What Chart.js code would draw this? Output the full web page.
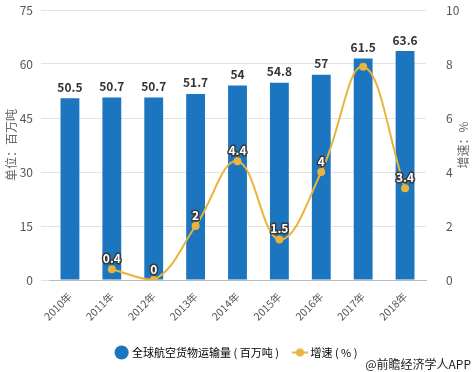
<!DOCTYPE html>
<html>
<head>
<meta charset="utf-8">
<script src="https://cdn.jsdelivr.net/npm/chart.js@4/dist/chart.umd.min.js"></script>
<style>
  html, body { margin: 0; padding: 0; background: #fff; }
  #wrap { width: 474px; height: 372px; }
</style>
</head>
<body>
<div id="wrap"><canvas id="chart" width="474" height="372"></canvas></div>
<script>
const years = ['2010年', '2011年', '2012年', '2013年', '2014年', '2015年', '2016年', '2017年', '2018年'];
const cargoVolume = [50.5, 50.7, 50.7, 51.7, 54, 54.8, 57, 61.5, 63.6];
const growthRate = [null, 0.4, 0, 2, 4.4, 1.5, 4, 7.9, 3.4];
const leftTicks = [0, 15, 30, 45, 60, 75];
const rightTicks = [0, 2, 4, 6, 8, 10];

const barColor = '#1B76BF';
const lineColor = '#E8B43C';
const fontFamily = '"Microsoft YaHei", "Noto Sans CJK SC", sans-serif';

// little "line with dot" icon for the legend
function lineIcon() {
    const c = document.createElement('canvas');
    c.width = 16; c.height = 10;
    const g = c.getContext('2d');
    g.strokeStyle = lineColor;
    g.lineWidth = 2;
    g.beginPath(); g.moveTo(0, 5); g.lineTo(16, 5); g.stroke();
    g.fillStyle = lineColor;
    g.beginPath(); g.arc(8, 5, 4, 0, Math.PI * 2); g.fill();
    return c;
}

// value labels, axis titles and source line
const extras = {
    id: 'extras',
    afterDatasetsDraw(chart) {
        const ctx = chart.ctx;
        const barMeta = chart.getDatasetMeta(0);
        const lineMeta = chart.getDatasetMeta(1);
        const barBoxes = [];

        ctx.save();
        ctx.font = 'bold 12px ' + fontFamily;
        ctx.textAlign = 'center';
        ctx.textBaseline = 'bottom';
        ctx.fillStyle = '#333';
        barMeta.data.forEach((bar, i) => {
            const txt = String(cargoVolume[i]);
            const y = bar.y - 5;
            ctx.fillText(txt, bar.x, y);
            const w = ctx.measureText(txt).width;
            barBoxes.push({ l: bar.x - w / 2, r: bar.x + w / 2, t: y - 14, b: y });
        });

        ctx.lineJoin = 'round';
        lineMeta.data.forEach((pt, i) => {
            const v = growthRate[i];
            if (v === null || pt.skip) return;
            const txt = String(v);
            const y = pt.y - 5;
            const w = ctx.measureText(txt).width;
            const box = { l: pt.x - w / 2, r: pt.x + w / 2, t: y - 14, b: y };
            const hit = barBoxes.some(b => box.l < b.r && box.r > b.l && box.t < b.b && box.b > b.t);
            if (hit) return;
            ctx.strokeStyle = '#3a3a3a';
            ctx.lineWidth = 3;
            ctx.strokeText(txt, pt.x, y);
            ctx.fillStyle = '#fff';
            ctx.fillText(txt, pt.x, y);
        });

        // axis titles, both read bottom to top
        const area = chart.chartArea;
        const midY = (area.top + area.bottom) / 2;
        ctx.font = '12px ' + fontFamily;
        ctx.fillStyle = '#666';
        ctx.textBaseline = 'middle';
        ctx.textAlign = 'center';
        [[11, '单位：百万吨'], [463, '增速：%']].forEach(([x, txt]) => {
            ctx.save();
            ctx.translate(x, midY);
            ctx.rotate(-Math.PI / 2);
            ctx.fillText(txt, 0, 0);
            ctx.restore();
        });

        ctx.font = '12px ' + fontFamily;
        ctx.fillStyle = '#222';
        ctx.textAlign = 'right';
        ctx.textBaseline = 'alphabetic';
        ctx.fillText('@前瞻经济学人APP', 471, 369);
        ctx.restore();
    }
};

new Chart(document.getElementById('chart'), {
    data: {
        labels: years,
        datasets: [
            {
                type: 'bar',
                label: '全球航空货物运输量 ( 百万吨 )',
                data: cargoVolume,
                backgroundColor: barColor,
                yAxisID: 'y',
                barPercentage: 0.45,
                categoryPercentage: 1,
                order: 2
            },
            {
                type: 'line',
                label: '增速 ( % )',
                data: growthRate,
                borderColor: lineColor,
                backgroundColor: lineColor,
                borderWidth: 2,
                pointRadius: 4,
                pointBorderWidth: 0,
                tension: 0.4,
                yAxisID: 'y1',
                order: 1
            }
        ]
    },
    options: {
        responsive: false,
        animation: false,
        layout: { padding: { top: 10, bottom: 4 } },
        plugins: {
            tooltip: { enabled: false },
            legend: {
                position: 'bottom',
                labels: {
                    usePointStyle: true,
                    boxWidth: 10,
                    boxHeight: 10,
                    padding: 16,
                    color: '#333',
                    font: { size: 11, family: fontFamily },
                    generateLabels(chart) {
                        return chart.data.datasets.map((ds, i) => ({
                            text: ds.label,
                            fillStyle: ds.backgroundColor,
                            strokeStyle: ds.backgroundColor,
                            lineWidth: 0,
                            pointStyle: i === 0 ? 'circle' : lineIcon(),
                            datasetIndex: i,
                            hidden: false
                        }));
                    }
                }
            }
        },
        scales: {
            x: {
                grid: { display: false },
                border: { color: '#bbb' },
                ticks: {
                    color: '#555',
                    font: { size: 10.5, family: fontFamily },
                    maxRotation: 45,
                    minRotation: 45,
                    padding: 2
                },
                afterFit(s) { s.height = 51; }
            },
            y: {
                position: 'left',
                min: 0,
                max: 75,
                afterBuildTicks(s) { s.ticks = leftTicks.map(v => ({ value: v })); },
                grid: { color: '#e3e3e3' },
                border: { display: false },
                ticks: { color: '#555', padding: 8, font: { size: 12, family: fontFamily } },
                afterFit(s) { s.width = 49; s.paddingTop = 0; s.paddingBottom = 0; }
            },
            y1: {
                position: 'right',
                min: 0,
                max: 10,
                afterBuildTicks(s) { s.ticks = rightTicks.map(v => ({ value: v })); },
                grid: { display: false },
                border: { display: false },
                ticks: { color: '#555', padding: 12, font: { size: 12, family: fontFamily } },
                afterFit(s) { s.width = 48; s.paddingTop = 0; s.paddingBottom = 0; }
            }
        }
    },
    plugins: [extras]
});
</script>
</body>
</html>
